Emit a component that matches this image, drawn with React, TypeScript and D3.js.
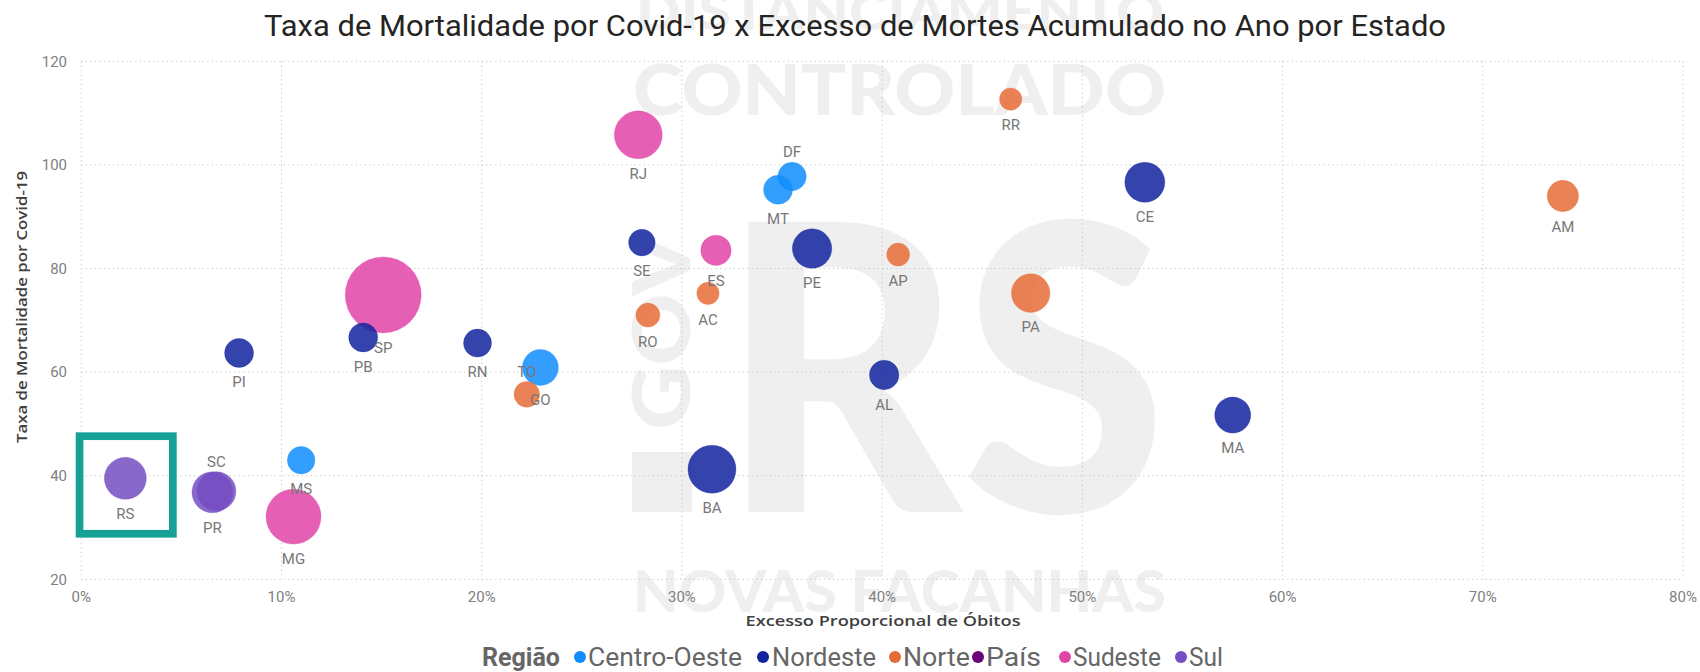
import React from 'react';
import * as d3 from 'd3';

// ---------- DATA ----------
const states = ['SP','MG','RJ','BA','RS','PR','CE','SC','PE','PA','GO','MA','AM','ES','AL','PI','MT','PB','DF','MS','RN','SE','TO','RO','AP','AC','RR'];
const stateRegion = ['Sudeste','Sudeste','Sudeste','Nordeste','Sul','Sul','Nordeste','Sul','Nordeste','Norte','Centro-Oeste','Nordeste','Norte','Sudeste','Nordeste','Nordeste','Centro-Oeste','Nordeste','Centro-Oeste','Centro-Oeste','Nordeste','Nordeste','Norte','Norte','Norte','Norte','Norte'];
// Excesso Proporcional de Óbitos (%)
const excessPct = [15.08,10.6,27.82,31.5,2.2,6.55,53.12,6.75,36.5,47.42,22.93,57.51,74.0,31.7,40.1,7.88,34.8,14.08,35.5,10.98,19.79,28.0,22.25,28.3,40.8,31.3,46.42];
// Taxa de Mortalidade por Covid-19
const mortality = [74.9,32.1,105.8,41.25,39.5,36.8,96.65,37.0,83.85,75.25,60.9,51.7,94.0,83.5,59.45,63.7,95.2,66.7,97.75,43.0,65.6,85.0,55.7,71.0,82.7,75.2,112.7];
// bubble size value
const bubbleSize = [1444,756,576,576,441,420,400,380,388,372,324,324,246,231,216,210,210,210,202,190,196,177,164,144,132,125,125];
const labelAbove = ['SC','DF','TO'];

const regions = ['Centro-Oeste','Nordeste','Norte','País','Sudeste','Sul'];
const regionColors = ['#118DFF','#12239E','#E66C37','#6B007B','#E044A7','#744EC2'];

const xTicks = [0,10,20,30,40,50,60,70,80];
const yTicks = [20,40,60,80,100,120];

const title = 'Taxa de Mortalidade por Covid-19 x Excesso de Mortes Acumulado no Ano por Estado';
const xTitle = 'Excesso Proporcional de Óbitos';
const yTitle = 'Taxa de Mortalidade por Covid-19';
const legendTitle = 'Região';
const highlighted = 'RS';

// ---------- LAYOUT ----------
const W = 1700, H = 672;
const plot = { left: 81.3, right: 1683, top: 61.3, bottom: 579.3 };
const legendDotX = [580, 763, 895, 978, 1065, 1181];
const legendTextX = [588, 772, 903, 986, 1073, 1189];
const legendTextW = [154, 104, 67, 55, 88, 34];

export default function App() {
  const x = d3.scaleLinear().domain([0, 80]).range([plot.left, plot.right]);
  const y = d3.scaleLinear().domain([20, 120]).range([plot.bottom, plot.top]);
  const r = d3.scaleSqrt().domain([0, 1444]).range([0, 38]);
  const color = d3.scaleOrdinal<string, string>().domain(regions).range(regionColors);

  const pts = states.map((s, i) => ({
    s, reg: stateRegion[i], cx: x(excessPct[i]), cy: y(mortality[i]), rr: r(bubbleSize[i]),
  }));
  const hi = pts.find(p => p.s === highlighted)!;
  const wmFill = '#efefef';
  const wmFont = 'Lato, Roboto, sans-serif';

  return (
    <svg width={W} height={H} style={{ position: 'absolute', left: 0, top: 0, display: 'block', background: '#fff' }}>
      {/* watermark */}
      <g fill={wmFill} fontFamily={wmFont} fontWeight={900}>
        <text x={636} y={30} fontSize={52} textLength={528} lengthAdjust="spacingAndGlyphs">DISTANCIAMENTO</text>
        <text x={633} y={115} fontSize={70} textLength={533} lengthAdjust="spacingAndGlyphs">CONTROLADO</text>
        <text x={720} y={512} fontSize={400} textLength={447} lengthAdjust="spacingAndGlyphs">RS</text>
        <text transform="translate(690,430) rotate(-90)" fontSize={80} textLength={197} lengthAdjust="spacingAndGlyphs">GOV</text>
        <rect x={632} y={452} width={60} height={60} />
        <text x={633} y={612} fontSize={58} textLength={533} lengthAdjust="spacingAndGlyphs">NOVAS FAÇANHAS</text>
      </g>

      {/* title */}
      <text x={264} y={36} fontSize={29} fontFamily="Roboto, sans-serif" fill="#252423" textLength={1182} lengthAdjust="spacingAndGlyphs">{title}</text>

      {/* grid */}
      <g stroke="#c4c4c4" strokeWidth={1} strokeDasharray="1.2 3.3">
        {yTicks.map(t => (
          <line key={'h' + t} x1={plot.left} x2={plot.right} y1={y(t)} y2={y(t)} />
        ))}
        {xTicks.map(t => (
          <line key={'v' + t} x1={x(t)} x2={x(t)} y1={plot.top} y2={plot.bottom} />
        ))}
      </g>

      {/* axis ticks */}
      <g fontFamily="Roboto, sans-serif" fontSize={15} fill="#808080">
        {yTicks.map(t => (
          <text key={'yt' + t} x={67} y={y(t) + 5.3} textAnchor="end">{t}</text>
        ))}
        {xTicks.map(t => (
          <text key={'xt' + t} x={x(t)} y={602} textAnchor="middle">{t + '%'}</text>
        ))}
      </g>

      {/* axis titles */}
      <text x={883} y={626} textAnchor="middle" fontFamily="'Open Sans', sans-serif" fontWeight={600} fontSize={15} fill="#404040" textLength={275} lengthAdjust="spacingAndGlyphs">{xTitle}</text>
      <text transform="translate(27,307) rotate(-90)" textAnchor="middle" fontFamily="'Open Sans', sans-serif" fontWeight={600} fontSize={15} fill="#404040" textLength={272} lengthAdjust="spacingAndGlyphs">{yTitle}</text>

      {/* bubbles */}
      <g>
        {pts.map(p => (
          <circle key={p.s} cx={p.cx} cy={p.cy} r={p.rr} fill={color(p.reg)} fillOpacity={0.85} stroke={color(p.reg)} strokeOpacity={0.3} strokeWidth={1} />
        ))}
      </g>

      {/* labels */}
      <g fontFamily="Roboto, sans-serif" fontSize={15} fill="#777" textAnchor="middle">
        {pts.map(p => (
          <text key={'l' + p.s} x={p.cx} y={labelAbove.includes(p.s) ? p.cy - p.rr - 5 : p.cy + p.rr + 20}>{p.s}</text>
        ))}
      </g>

      {/* highlight box */}
      <rect x={hi.cx - 45.8} y={hi.cy - 42.1} width={93.3} height={97.6} fill="none" stroke="#17a096" strokeWidth={7.7} />

      {/* legend */}
      <g fontFamily="Roboto, sans-serif">
        <text x={482} y={666} fontSize={25} fontWeight={700} fill="#666" textLength={78} lengthAdjust="spacingAndGlyphs">{legendTitle}</text>
        {regions.map((reg, i) => (
          <g key={reg}>
            <circle cx={legendDotX[i]} cy={657} r={6} fill={color(reg)} />
            <text x={legendTextX[i]} y={666} fontSize={25} fill="#666" textLength={legendTextW[i]} lengthAdjust="spacingAndGlyphs">{reg}</text>
          </g>
        ))}
      </g>
    </svg>
  );
}
